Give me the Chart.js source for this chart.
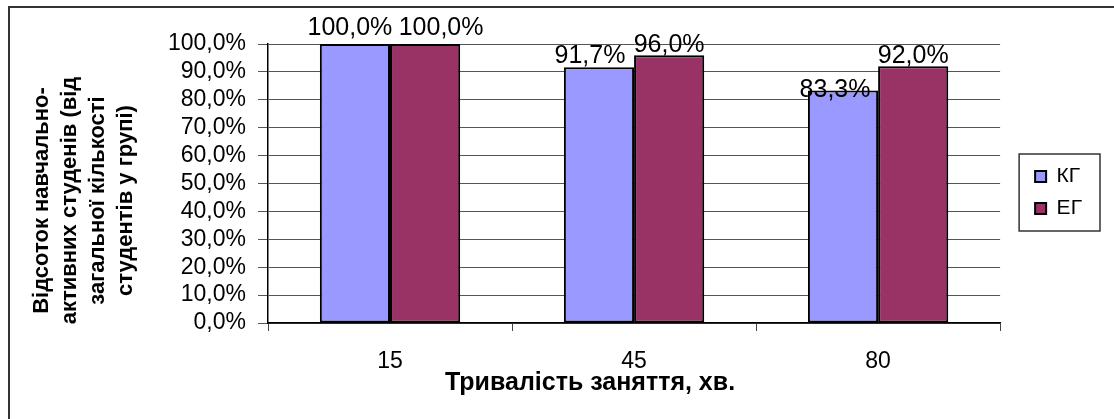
<!DOCTYPE html>
<html>
<head>
<meta charset="utf-8">
<script src="https://cdn.jsdelivr.net/npm/chart.js@4.4.1/dist/chart.umd.min.js"></script>
<style>
    html, body { margin: 0; padding: 0; background: #fff; }
</style>
</head>
<body>
<canvas id="myBarChart" width="1114" height="419"></canvas>
<script>
// дані діаграми
const categories = ['15', '45', '80'];
const seriesNames = ['КГ', 'ЕГ'];
const kgValues = [100.0, 91.7, 83.3];
const egValues = [100.0, 96.0, 92.0];
const yTickValues = [0, 10, 20, 30, 40, 50, 60, 70, 80, 90, 100];
const xTitle = 'Тривалість заняття, хв.';
const yTitle = ['Відсоток навчально-', 'активних студенів (від', 'загальної кількості', 'студентів у групі)'];

// зсув підписів значень відносно верху стовпчика (dx, dy)
const kgLabelShift = [[-5, -16], [-9, -11], [-8, 0]];
const egLabelShift = [[16, -16], [0, -10], [0, -10]];

const FONT = '"Liberation Sans", Arial, sans-serif';
const fmt = v => v.toFixed(1).replace('.', ',') + '%';

const frameAndLabels = {
    id: 'frameAndLabels',
    afterLayout(chart) {
        // легенда трохи правіше й вище, як в оригіналі
        const lg = chart.legend;
        lg.left += 24; lg.right += 24;
        lg.top -= 39; lg.bottom -= 39;
    },
    beforeDraw(chart) {
        const ctx = chart.ctx;
        ctx.save();
        ctx.fillStyle = '#fff';
        ctx.fillRect(0, 0, chart.width, chart.height);
        ctx.strokeStyle = '#333';
        ctx.lineWidth = 2;
        ctx.beginPath();
        ctx.moveTo(9, chart.height);
        ctx.lineTo(9, 7);
        ctx.lineTo(chart.width, 7);
        ctx.stroke();
        ctx.restore();
    },
    afterDraw(chart) {
        const ctx = chart.ctx;
        const boxes = chart.legend.legendHitBoxes;
        if (boxes && boxes.length) {
            const l = Math.min(...boxes.map(b => b.left)) - 16;
            const t = Math.min(...boxes.map(b => b.top)) - 12;
            const r = Math.max(...boxes.map(b => b.left + b.width)) + 18;
            const b = Math.max(...boxes.map(b => b.top + b.height)) + 12;
            ctx.save();
            ctx.strokeStyle = '#333';
            ctx.lineWidth = 1.5;
            ctx.strokeRect(l, t, r - l, b - t);
            ctx.restore();
        }

        // назви осей
        const area = chart.chartArea;
        ctx.save();
        ctx.fillStyle = '#000';
        ctx.textAlign = 'center';
        ctx.textBaseline = 'middle';
        ctx.font = 'bold 25px ' + FONT;
        ctx.fillText(xTitle, (area.left + area.right) / 2 - 44, 383);
        ctx.translate(42, (area.top + area.bottom) / 2 + 17);
        ctx.rotate(-Math.PI / 2);
        ctx.font = 'bold 22px ' + FONT;
        yTitle.forEach((line, i) => ctx.fillText(line, 0, i * 28));
        ctx.restore();
    },
    afterDatasetsDraw(chart) {
        const ctx = chart.ctx;
        const shifts = [kgLabelShift, egLabelShift];
        ctx.save();
        ctx.font = '25px ' + FONT;
        ctx.fillStyle = '#000';
        ctx.textAlign = 'center';
        ctx.textBaseline = 'middle';
        chart.data.datasets.forEach((ds, i) => {
            chart.getDatasetMeta(i).data.forEach((bar, j) => {
                const [dx, dy] = shifts[i][j];
                ctx.fillText(fmt(ds.data[j]), bar.x + dx, bar.y + dy);
            });
        });
        ctx.restore();
    }
};

const ctx = document.getElementById('myBarChart').getContext('2d');
const myBarChart = new Chart(ctx, {
    type: 'bar',
    data: {
        labels: categories,
        datasets: [
            {
                label: seriesNames[0],
                data: kgValues,
                backgroundColor: '#9999FF',
                borderColor: '#000',
                borderWidth: 2,
                borderSkipped: false
            },
            {
                label: seriesNames[1],
                data: egValues,
                backgroundColor: '#993366',
                borderColor: '#000',
                borderWidth: 2,
                borderSkipped: false
            }
        ]
    },
    options: {
        responsive: false,
        animation: false,
        devicePixelRatio: 1,
        layout: { padding: { left: 28, top: 44, right: 46, bottom: 0 } },
        datasets: { bar: { categoryPercentage: 0.575, barPercentage: 1 } },
        plugins: {
            tooltip: { enabled: false },
            legend: {
                position: 'right',
                labels: {
                    color: '#000',
                    boxWidth: 11,
                    boxHeight: 11,
                    padding: 11,
                    font: { family: FONT, size: 21 }
                }
            }
        },
        scales: {
            x: {
                grid: { drawOnChartArea: false, color: '#444', tickLength: 8 },
                border: { color: '#000', width: 1.5 },
                ticks: {
                    color: '#000',
                    padding: 17,
                    font: { family: FONT, size: 23 }
                },
                afterFit: scale => { scale.height = 96; }
            },
            y: {
                min: 0,
                max: 100,
                afterBuildTicks: scale => { scale.ticks = yTickValues.map(v => ({ value: v })); },
                grid: { color: '#555', tickLength: 10 },
                border: { color: '#000', width: 1.5 },
                ticks: {
                    color: '#000',
                    padding: 12,
                    autoSkip: false,
                    callback: v => fmt(v),
                    font: { family: FONT, size: 23 }
                },
                afterFit: scale => { scale.width = 240; }
            }
        }
    },
    plugins: [frameAndLabels]
});
</script>
</body>
</html>
